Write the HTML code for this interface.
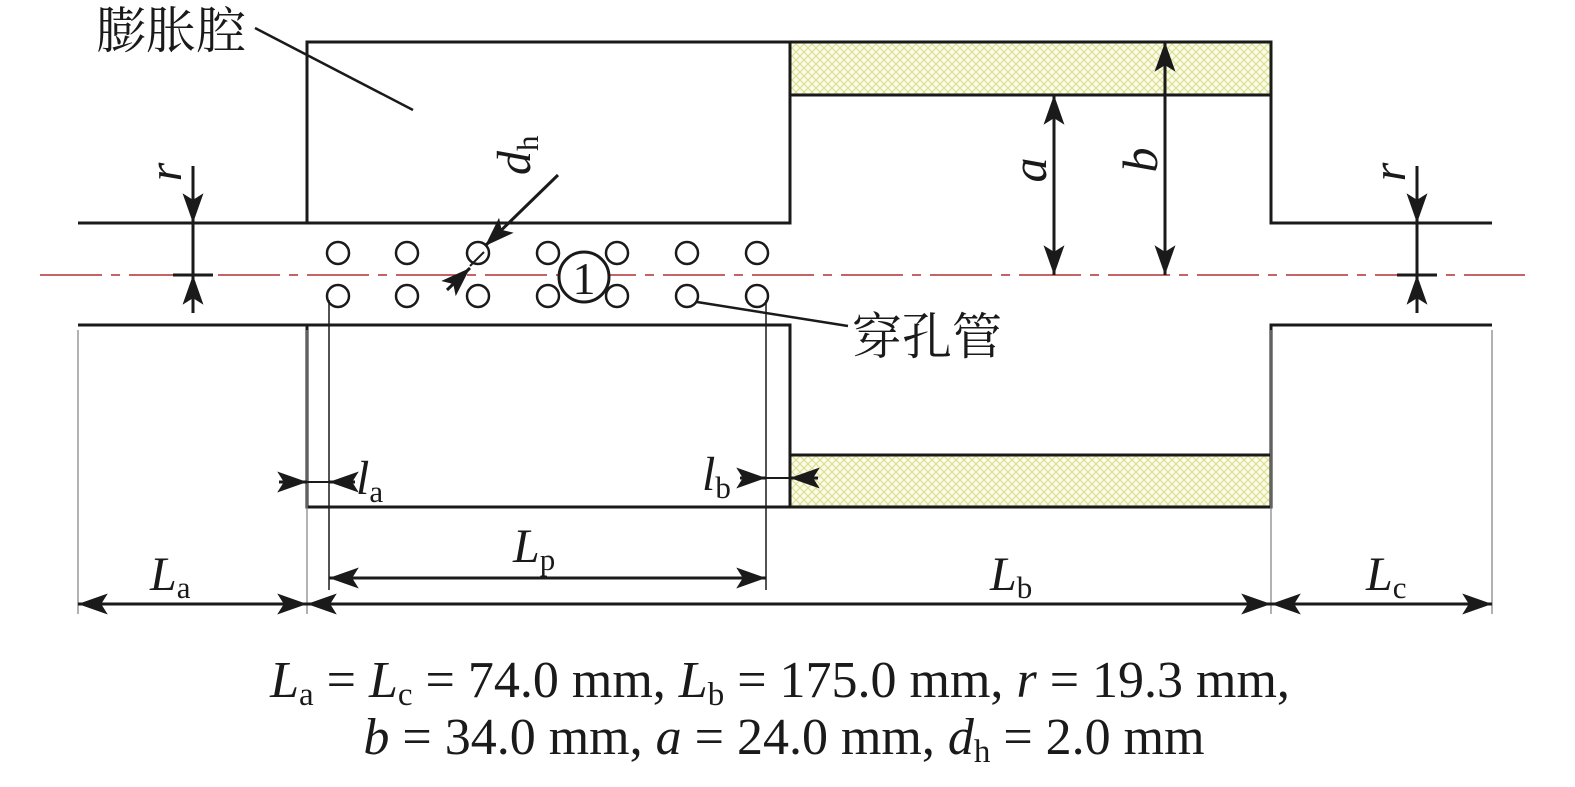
<!DOCTYPE html>
<html><head><meta charset="utf-8"><style>
html,body{margin:0;padding:0;background:#fff;}
svg{display:block;}
text{font-family:"Liberation Serif","Noto Serif CJK SC",serif;fill:#1a1a1a;}
.cjk{font-family:"Noto Serif CJK SC","Noto Sans CJK SC",serif;}
</style></head><body>
<svg width="1575" height="787" viewBox="0 0 1575 787" xmlns="http://www.w3.org/2000/svg">
<defs>
<pattern id="h" width="8" height="8" patternUnits="userSpaceOnUse">
<rect width="8" height="8" fill="#fbfbe6"/>
<path d="M0,0 L8,8 M8,0 L0,8" stroke="#d6dc8c" stroke-width="1"/>
</pattern>
<marker id="a" markerUnits="userSpaceOnUse" markerWidth="32" markerHeight="24" refX="27" refY="9.5" orient="auto-start-reverse" viewBox="0 0 29 19">
<path d="M0,0 L27,9.5 L0,19 L6,9.5 Z" fill="#1a1a1a"/>
</marker>
</defs>
<g stroke="#1a1a1a" fill="none" stroke-width="3">
<rect x="790" y="42" width="481" height="53" fill="url(#h)"/>
<rect x="790" y="455" width="481" height="52" fill="url(#h)"/>
<polyline points="78,223 307,223 307,42 1271,42 1271,223 1492,223"/>
<polyline points="307,223 790,223 790,42"/>
<line x1="790" y1="95" x2="1271" y2="95"/>
<polyline points="78,325 307,325 307,507 1271,507 1271,325 1492,325"/>
<polyline points="307,325 790,325 790,507"/>
<line x1="790" y1="455" x2="1271" y2="455"/>
</g>
<line x1="40" y1="275" x2="1525" y2="275" stroke="#b03030" stroke-width="1.5" stroke-dasharray="62 9 9 9"/>
<g stroke="#1a1a1a" stroke-width="2.5" fill="none">
<circle cx="338" cy="253" r="11"/><circle cx="407" cy="253" r="11"/><circle cx="478" cy="253" r="11"/><circle cx="548" cy="253" r="11"/><circle cx="617" cy="253" r="11"/><circle cx="687" cy="253" r="11"/><circle cx="757" cy="253" r="11"/>
<circle cx="338" cy="296" r="11"/><circle cx="407" cy="296" r="11"/><circle cx="478" cy="296" r="11"/><circle cx="548" cy="296" r="11"/><circle cx="617" cy="296" r="11"/><circle cx="687" cy="296" r="11"/><circle cx="757" cy="296" r="11"/>
<circle cx="584" cy="277" r="25" fill="#fff" stroke-width="3"/>
</g>
<text x="584" y="294" font-size="46" text-anchor="middle">1</text>
<g stroke="#888" stroke-width="1.3">
<line x1="78" y1="330" x2="78" y2="614"/>
<line x1="307" y1="330" x2="307" y2="614"/>
<line x1="1271" y1="330" x2="1271" y2="614"/>
<line x1="1492" y1="330" x2="1492" y2="614"/>
</g>
<g stroke="#1a1a1a" stroke-width="1.5">
<line x1="329" y1="300" x2="329" y2="590"/>
<line x1="766" y1="300" x2="766" y2="590"/>
</g>
<g stroke="#1a1a1a" stroke-width="3" fill="none">
<line x1="78" y1="604" x2="307" y2="604" marker-start="url(#a)" marker-end="url(#a)"/>
<line x1="307" y1="604" x2="1271" y2="604" marker-start="url(#a)" marker-end="url(#a)"/>
<line x1="1271" y1="604" x2="1492" y2="604" marker-start="url(#a)" marker-end="url(#a)"/>
<line x1="329" y1="578" x2="766" y2="578" marker-start="url(#a)" marker-end="url(#a)"/>
<line x1="279" y1="482" x2="307" y2="482" marker-end="url(#a)"/>
<line x1="307" y1="482" x2="329" y2="482" stroke-width="2"/>
<line x1="355" y1="482" x2="329" y2="482" marker-end="url(#a)"/>
<line x1="740" y1="478" x2="766" y2="478" marker-end="url(#a)"/>
<line x1="766" y1="478" x2="790" y2="478" stroke-width="2"/>
<line x1="818" y1="478" x2="790" y2="478" marker-end="url(#a)"/>
<line x1="1054" y1="95" x2="1054" y2="275" marker-start="url(#a)" marker-end="url(#a)"/>
<line x1="1165" y1="42" x2="1165" y2="275" marker-start="url(#a)" marker-end="url(#a)"/>
<line x1="193" y1="166" x2="193" y2="223" marker-end="url(#a)"/>
<line x1="193" y1="223" x2="193" y2="275"/>
<line x1="193" y1="313" x2="193" y2="275" marker-end="url(#a)"/>
<line x1="173" y1="223" x2="213" y2="223"/>
<line x1="173" y1="275" x2="213" y2="275"/>
<line x1="1417" y1="166" x2="1417" y2="223" marker-end="url(#a)"/>
<line x1="1417" y1="223" x2="1417" y2="275"/>
<line x1="1417" y1="313" x2="1417" y2="275" marker-end="url(#a)"/>
<line x1="1397" y1="223" x2="1437" y2="223"/>
<line x1="1397" y1="275" x2="1437" y2="275"/>
<line x1="558" y1="175" x2="485" y2="246" marker-end="url(#a)"/>
<line x1="447" y1="290" x2="470" y2="268" marker-end="url(#a)"/>
<line x1="470" y1="266" x2="484" y2="252" stroke-width="2"/>
<line x1="255" y1="28" x2="413" y2="110" stroke-width="2.5"/>
<line x1="697" y1="302" x2="848" y2="326" stroke-width="2.5"/>
</g>
<text class="cjk" x="96" y="48" font-size="50">膨胀腔</text>
<text class="cjk" x="852" y="354" font-size="50">穿孔管</text>
<text x="150" y="590" font-size="48" font-style="italic">L<tspan font-size="31" font-style="normal" dy="8">a</tspan></text>
<text x="513" y="562" font-size="48" font-style="italic">L<tspan font-size="31" font-style="normal" dy="8">p</tspan></text>
<text x="990" y="590" font-size="48" font-style="italic">L<tspan font-size="31" font-style="normal" dy="8">b</tspan></text>
<text x="1366" y="590" font-size="48" font-style="italic">L<tspan font-size="31" font-style="normal" dy="8">c</tspan></text>
<text x="356" y="494" font-size="48" font-style="italic">l<tspan font-size="31" font-style="normal" dy="8">a</tspan></text>
<text x="702" y="490" font-size="48" font-style="italic">l<tspan font-size="31" font-style="normal" dy="8">b</tspan></text>
<text transform="translate(1046,170) rotate(-90)" font-size="50" font-style="italic" text-anchor="middle">a</text>
<text transform="translate(1157,160) rotate(-90)" font-size="50" font-style="italic" text-anchor="middle">b</text>
<text transform="translate(181,172) rotate(-90)" font-size="48" font-style="italic" text-anchor="middle">r</text>
<text transform="translate(1405,172) rotate(-90)" font-size="48" font-style="italic" text-anchor="middle">r</text>
<text transform="translate(530,175) rotate(-90)" font-size="48" font-style="italic">d<tspan font-size="31" font-style="normal" dy="8">h</tspan></text>
<text x="780" y="697" font-size="52" text-anchor="middle"><tspan font-style="italic">L</tspan><tspan font-size="33" dy="8">a</tspan><tspan dy="-8"> = </tspan><tspan font-style="italic">L</tspan><tspan font-size="33" dy="8">c</tspan><tspan dy="-8"> = 74.0 mm, </tspan><tspan font-style="italic">L</tspan><tspan font-size="33" dy="8">b</tspan><tspan dy="-8"> = 175.0 mm, </tspan><tspan font-style="italic">r</tspan> = 19.3 mm,</text>
<text x="784" y="754" font-size="52" text-anchor="middle"><tspan font-style="italic">b</tspan> = 34.0 mm, <tspan font-style="italic">a</tspan> = 24.0 mm, <tspan font-style="italic">d</tspan><tspan font-size="33" dy="8">h</tspan><tspan dy="-8"> = 2.0 mm</tspan></text>
</svg>
</body></html>
